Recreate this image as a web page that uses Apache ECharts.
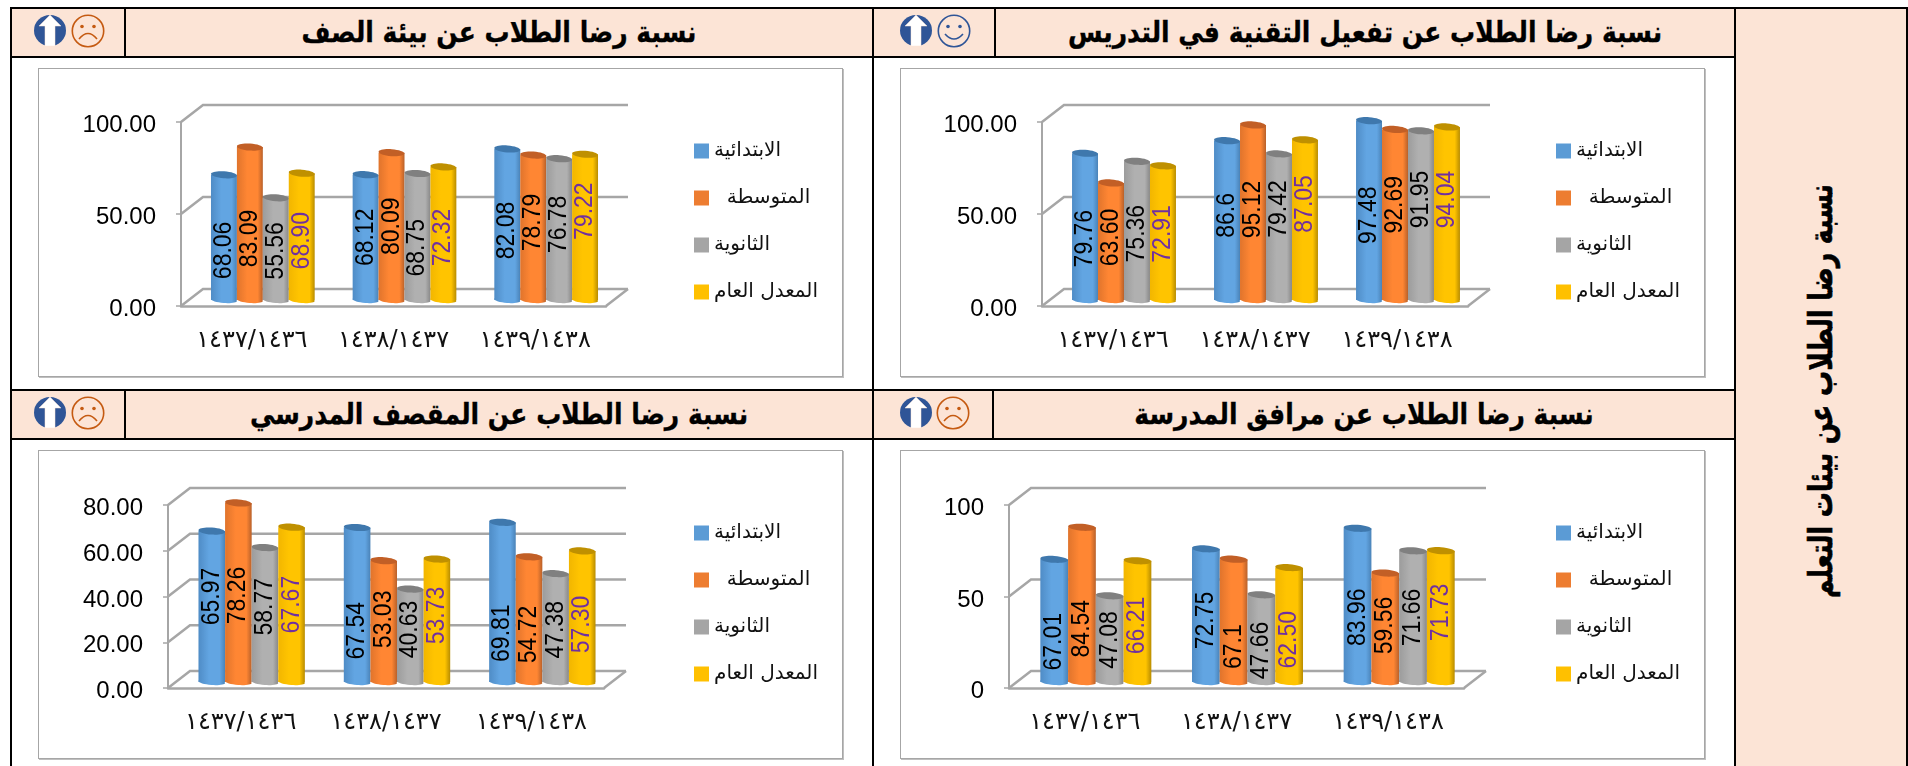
<!DOCTYPE html>
<html lang="ar">
<head>
<meta charset="utf-8">
<title>نسبة رضا الطلاب عن بيئات التعلم</title>
<script src="https://cdn.jsdelivr.net/npm/echarts@6/dist/echarts.min.js"></script>
<style>
html, body { margin: 0; padding: 0; background: #fff; overflow: hidden; }
#page { position: relative; width: 1908px; height: 766px; overflow: hidden; }
.peach { position: absolute; background: #fce4d6; }
.line { position: absolute; background: #000; }
.head { position: absolute; direction: rtl; text-align: center; font: bold 25px "DejaVu Sans", sans-serif; color: #000; white-space: nowrap; transform: scaleY(1.15); -webkit-text-stroke: 0.3px #000; }
.side { position: absolute; left: 1821px; top: 391px; direction: rtl; transform: translate(-50%, -50%) rotate(-90deg) scaleY(1.3); font: bold 25px "DejaVu Sans", sans-serif; color: #000; white-space: nowrap; -webkit-text-stroke: 0.5px #000; }
.chart { position: absolute; width: 803px; height: 307px; background: #fff; box-shadow: 0 0 0 1px #a6a6a6, 1px 1px 0 1px #bfbfbf; }
.icon { position: absolute; }
</style>
</head>
<body>
<div id="page">
    <div class="peach" style="left:12px;top:9px;width:1722px;height:47px"></div>
    <div class="peach" style="left:12px;top:391px;width:1722px;height:47px"></div>
    <div class="peach" style="left:1734px;top:9px;width:174px;height:757px"></div>

    <div class="line" style="left:10px;top:7px;width:1898px;height:2px"></div>
    <div class="line" style="left:10px;top:56px;width:1726px;height:2px"></div>
    <div class="line" style="left:10px;top:389px;width:1726px;height:2px"></div>
    <div class="line" style="left:10px;top:438px;width:1726px;height:2px"></div>
    <div class="line" style="left:10px;top:7px;width:2px;height:759px"></div>
    <div class="line" style="left:872px;top:7px;width:2px;height:759px"></div>
    <div class="line" style="left:1734px;top:7px;width:2px;height:759px"></div>
    <div class="line" style="left:1906px;top:7px;width:2px;height:759px"></div>
    <div class="line" style="left:124px;top:9px;width:2px;height:47px"></div>
    <div class="line" style="left:994px;top:9px;width:2px;height:47px"></div>
    <div class="line" style="left:124px;top:391px;width:2px;height:47px"></div>
    <div class="line" style="left:992px;top:391px;width:2px;height:47px"></div>

    <div class="head" style="left:126px;top:9px;width:746px;line-height:47px">نسبة رضا الطلاب عن بيئة الصف</div>
    <div class="head" style="left:996px;top:9px;width:738px;line-height:47px">نسبة رضا الطلاب عن تفعيل التقنية في التدريس</div>
    <div class="head" style="left:126px;top:391px;width:746px;line-height:47px">نسبة رضا الطلاب عن المقصف المدرسي</div>
    <div class="head" style="left:994px;top:391px;width:740px;line-height:47px">نسبة رضا الطلاب عن مرافق المدرسة</div>
    <div class="side">نسبة رضا الطلاب عن بيئات التعلم</div>

    <svg width="0" height="0" style="position:absolute">
        <symbol id="arrow" viewBox="0 0 32 31">
            <ellipse cx="16" cy="15.5" rx="16" ry="15.5" fill="#2f5597"/>
            <path d="M16 0 L27 11 L21 11 L21 31 L11 31 L11 11 L5 11 Z" fill="#fff" stroke="#fce4d6" stroke-width="0.5"/>
        </symbol>
        <symbol id="sad" viewBox="0 0 34 34">
            <circle cx="17" cy="17" r="15.7" fill="none" stroke="#c55a11" stroke-width="1.6"/>
            <circle cx="11" cy="12.5" r="1.8" fill="#c55a11"/>
            <circle cx="23" cy="12.5" r="1.8" fill="#c55a11"/>
            <path d="M8 25 Q17 14 26 25" fill="none" stroke="#c55a11" stroke-width="1.6"/>
        </symbol>
        <symbol id="happy" viewBox="0 0 34 34">
            <circle cx="17" cy="17" r="15.7" fill="none" stroke="#2f5597" stroke-width="1.6"/>
            <circle cx="11" cy="12.5" r="1.8" fill="#2f5597"/>
            <circle cx="23" cy="12.5" r="1.8" fill="#2f5597"/>
            <path d="M8 20 Q17 30 26 20" fill="none" stroke="#2f5597" stroke-width="1.6"/>
        </symbol>
    </svg>
    <svg class="icon" style="left:34px;top:15px" width="32" height="31"><use href="#arrow"/></svg>
    <svg class="icon" style="left:71px;top:14px" width="34" height="34"><use href="#sad"/></svg>
    <svg class="icon" style="left:900px;top:15px" width="32" height="31"><use href="#arrow"/></svg>
    <svg class="icon" style="left:937px;top:14px" width="34" height="34"><use href="#happy"/></svg>
    <svg class="icon" style="left:34px;top:397px" width="32" height="31"><use href="#arrow"/></svg>
    <svg class="icon" style="left:71px;top:396px" width="34" height="34"><use href="#sad"/></svg>
    <svg class="icon" style="left:900px;top:397px" width="32" height="31"><use href="#arrow"/></svg>
    <svg class="icon" style="left:936px;top:396px" width="34" height="34"><use href="#sad"/></svg>

    <div class="chart" id="chartClass" style="left:39px;top:69px"></div>
    <div class="chart" id="chartTech" style="left:901px;top:69px"></div>
    <div class="chart" id="chartCanteen" style="left:39px;top:451px"></div>
    <div class="chart" id="chartFacilities" style="left:901px;top:451px"></div>
</div>

<script>
const categories = ['١٤٣٧/١٤٣٦', '١٤٣٨/١٤٣٧', '١٤٣٩/١٤٣٨'];
const seriesNames = ['الابتدائية', '  المتوسطة', 'الثانوية', 'المعدل العام'];

// values stay strings so that 86.6 and 68.90 print as in the picture
const classValues = [
    ['68.06', '68.12', '82.08'],
    ['83.09', '80.09', '78.79'],
    ['55.56', '68.75', '76.78'],
    ['68.90', '72.32', '79.22']
];
const techValues = [
    ['79.76', '86.6', '97.48'],
    ['63.60', '95.12', '92.69'],
    ['75.36', '79.42', '91.95'],
    ['72.91', '87.05', '94.04']
];
const canteenValues = [
    ['65.97', '67.54', '69.81'],
    ['78.26', '53.03', '54.72'],
    ['58.77', '40.63', '47.38'],
    ['67.67', '53.73', '57.30']
];
const facilitiesValues = [
    ['67.01', '72.75', '83.96'],
    ['84.54', '67.1', '59.56'],
    ['47.08', '47.66', '71.66'],
    ['66.21', '62.50', '71.73']
];

const ticks100 = [0, 50, 100];
const ticks80 = [0, 20, 40, 60, 80];

// the labels were dragged by hand in the original, px below the middle of the bar
const classLabelShift = [[13, 0, 6], [15, 0, -5], [2, 11, -5], [4, 4, -16]];
const techLabelShift = [[12, -5, 5], [-4, -3, -10], [3, -18, -16], [1, -16, -14]];
const canteenLabelShift = [[-10, 26, 31], [3, -2, 15], [-8, -6, 2], [0, -5, 8]];
const facilitiesLabelShift = [[21, 5, 12], [24, 26, -2], [1, 12, 1], [4, 15, -4]];

const barColors = [
    {edgeL: '#4f8cc6', mid: '#62a5e2', edgeR: '#4a83b8', cap: '#3f78ad', flat: '#5b9bd5'},
    {edgeL: '#e0742c', mid: '#ff8633', edgeR: '#b9612a', cap: '#c25f26', flat: '#ed7d31'},
    {edgeL: '#9c9c9c', mid: '#b0b0b0', edgeR: '#888888', cap: '#808080', flat: '#a5a5a5'},
    {edgeL: '#f2b600', mid: '#ffc400', edgeR: '#b88c00', cap: '#bf9000', flat: '#ffc000'}
];
const labelColors = ['#000', '#000', '#000', '#7030a0'];

const depthX = 22;
const depthY = 17;
const barLift = 6;

function wallItem(params, api) {
    const sys = params.coordSys;
    const y = api.coord([0, api.value(1)])[1];
    const x0 = sys.x;
    const x1 = sys.x + sys.width;
    const children = [{
        type: 'polyline',
        shape: {points: [[x0, y], [x0 + depthX, y - depthY], [x1 + depthX, y - depthY]]},
        style: {stroke: '#a6a6a6', lineWidth: 2.5, fill: null}
    }];
    if (api.value(1) === 0) {
        children.push({
            type: 'line',
            shape: {x1: x1, y1: y, x2: x1 + depthX, y2: y - depthY},
            style: {stroke: '#a6a6a6', lineWidth: 2.5}
        });
    }
    return {type: 'group', children: children};
}

function cylinderItem(index, shifts) {
    const c = barColors[index];
    return function (params, api) {
        const cat = api.value(0);
        const bandW = api.size([1, 0])[0];
        const w = bandW * 0.183;
        const base = api.coord([cat, 0]);
        const top = api.coord([cat, api.value(1)]);
        const left = base[0] + depthX / 2 + (index - 2) * w;
        const cx = left + w / 2;
        const y0 = base[1] - barLift;
        const y1 = top[1] - barLift;
        const grad = new echarts.graphic.LinearGradient(0, 0, 1, 0, [
            {offset: 0, color: c.edgeL},
            {offset: 0.4, color: c.mid},
            {offset: 0.8, color: c.mid},
            {offset: 1, color: c.edgeR}
        ]);
        const tilt = -0.07;
        return {
            type: 'group',
            children: [
                {type: 'rect', shape: {x: left, y: y1, width: w, height: y0 - y1}, style: {fill: grad}},
                {type: 'ellipse', x: cx, y: y0, rotation: tilt, shape: {cx: 0, cy: 0, rx: w / 2, ry: 3}, style: {fill: grad}},
                {type: 'ellipse', x: cx, y: y1, rotation: tilt, shape: {cx: 0, cy: 0, rx: w / 2, ry: 3.5}, style: {fill: c.cap}},
                {
                    type: 'text',
                    x: cx,
                    y: (y0 + y1) / 2 + shifts[cat],
                    rotation: Math.PI / 2,
                    scaleY: 1.1,
                    style: {
                        text: api.value(2),
                        fill: labelColors[index],
                        font: '23px "Liberation Sans"',
                        align: 'center',
                        verticalAlign: 'middle'
                    }
                }
            ]
        };
    };
}

function drawPanel(id, values, shifts, ticks, digits, grid) {
    const chart = echarts.init(document.getElementById(id));
    const bars = values.map(function (row, i) {
        return {
            name: seriesNames[i],
            type: 'custom',
            coordinateSystem: 'cartesian2d',
            itemStyle: {color: barColors[i].flat},
            encode: {x: 0, y: 1},
            dimensions: ['cat', 'value', {name: 'text', type: 'ordinal'}],
            data: row.map(function (v, k) { return [k, Number(v), v]; }),
            renderItem: cylinderItem(i, shifts[i]),
            silent: true
        };
    });
    chart.setOption({
        animation: false,
        backgroundColor: '#fff',
        grid: grid,
        legend: {
            data: seriesNames,
            orient: 'vertical',
            left: 655,
            top: 72,
            padding: 0,
            icon: 'rect',
            itemWidth: 15,
            itemHeight: 15,
            itemGap: 27,
            selectedMode: false,
            textStyle: {fontFamily: 'DejaVu Sans', fontSize: 20, lineHeight: 15, color: '#111'}
        },
        xAxis: {
            type: 'category',
            data: categories,
            axisLine: {lineStyle: {color: '#a6a6a6', width: 2.5}},
            axisTick: {length: 10, lineStyle: {color: '#a6a6a6', width: 1.5}},
            axisLabel: {interval: 0, hideOverlap: false, margin: 23, color: '#111', fontFamily: 'DejaVu Sans', fontSize: 24}
        },
        yAxis: {
            type: 'value',
            min: ticks[0],
            max: ticks[ticks.length - 1],
            interval: ticks[1] - ticks[0],
            splitLine: {show: false},
            axisLine: {show: true, lineStyle: {color: '#a6a6a6', width: 2}},
            axisTick: {show: true, length: 5, lineStyle: {color: '#a6a6a6', width: 1.5}},
            axisLabel: {
                margin: 25,
                verticalAlign: 'top',
                lineHeight: 7,
                color: '#000',
                fontFamily: 'Liberation Sans',
                fontSize: 24,
                formatter: function (v) { return v.toFixed(digits); }
            }
        },
        series: [{
            type: 'custom',
            coordinateSystem: 'cartesian2d',
            encode: {x: 0, y: 1},
            data: ticks.map(function (t) { return [0, t]; }),
            renderItem: wallItem,
            silent: true
        }].concat(bars)
    });
}

drawPanel('chartClass', classValues, classLabelShift, ticks100, 2, {left: 142, top: 53, width: 425, height: 184});
drawPanel('chartTech', techValues, techLabelShift, ticks100, 2, {left: 141, top: 53, width: 426, height: 184});
drawPanel('chartCanteen', canteenValues, canteenLabelShift, ticks80, 2, {left: 129, top: 54, width: 436, height: 183});
drawPanel('chartFacilities', facilitiesValues, facilitiesLabelShift, ticks100, 0, {left: 108, top: 54, width: 455, height: 183});
</script>
</body>
</html>
